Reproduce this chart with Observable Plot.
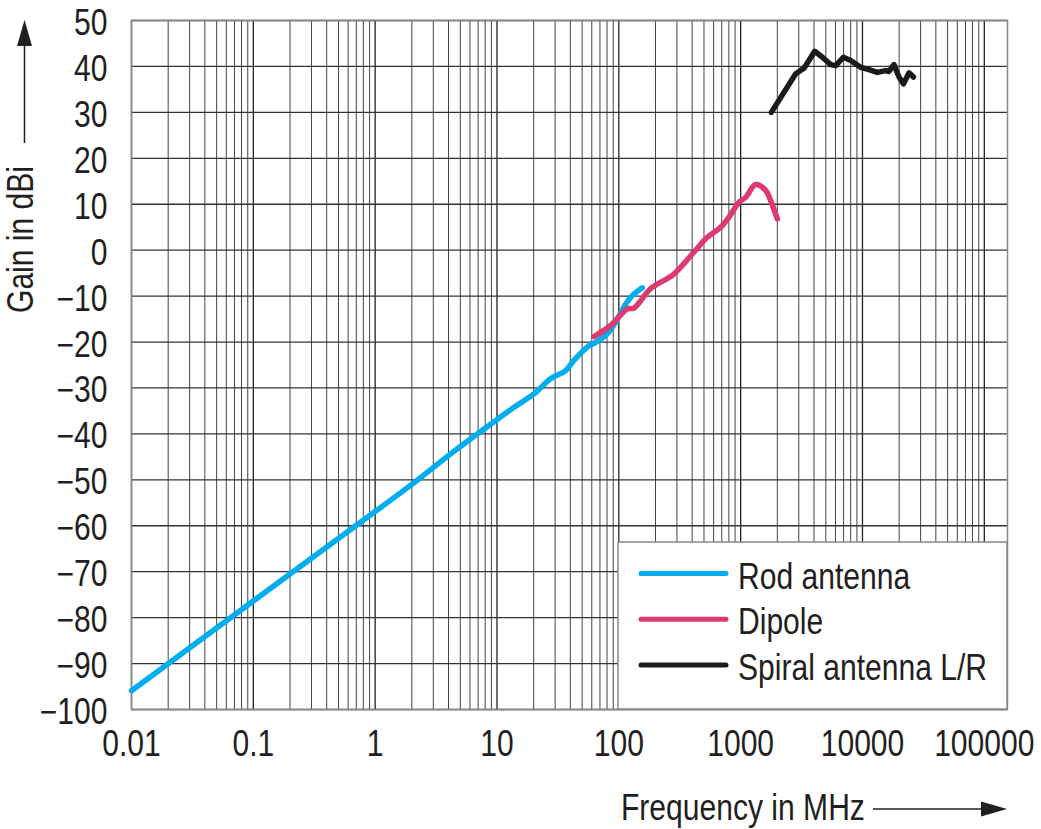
<!DOCTYPE html>
<html>
<head>
<meta charset="utf-8">
<script src="https://cdn.jsdelivr.net/npm/d3@7"></script>
<script src="https://cdn.jsdelivr.net/npm/@observablehq/plot@0.6"></script>
<style>
  html, body { margin: 0; padding: 0; background: #fff; }
  #chart svg { display: block; }
</style>
</head>
<body>
<div id="chart"></div>
<script>
// ---- data ----
const rodFreq = [0.01, 0.2, 1, 2, 4.43, 8.86, 13.8, 20.1, 27.5, 36.6, 42.8, 56.8, 62.5, 80.5, 94, 114, 129, 156];
const rodGain = [-95.9, -70.5, -56.9, -51.0, -43.8, -37.9, -34.2, -31.3, -28.0, -26.2, -24.0, -20.8, -20.3, -18.2, -15.7, -11.7, -9.9, -8.2];

const dipoleFreq = [62.5, 85.7, 117, 133, 182, 283, 414, 532, 685, 802, 968, 1099, 1328, 1604, 1762, 2000];
const dipoleGain = [-18.8, -16.4, -12.8, -12.6, -8.4, -5.2, -0.4, 2.8, 5.0, 7.2, 10.4, 11.5, 14.3, 13.0, 10.8, 6.8];

const spiralFreq = [1786, 2830, 3311, 4054, 4690, 5483, 6030, 6970, 8000, 9660, 11300, 13240, 15500, 16490, 18130, 19950, 21680, 24100, 26180];
const spiralGain = [30.0, 38.4, 39.6, 43.3, 42.0, 40.4, 40.2, 42.0, 41.3, 39.8, 39.3, 38.7, 39.1, 38.9, 40.4, 37.7, 36.2, 38.6, 37.7];

const seriesNames = ["Rod antenna", "Dipole", "Spiral antenna L/R"];
const seriesColors = ["#00aeef", "#dc3a70", "#1a1a1a"];

const xTicks = [0.01, 0.1, 1, 10, 100, 1000, 10000, 100000];
const xTickLabels = ["0.01", "0.1", "1", "10", "100", "1000", "10000", "100000"];
const yTicks = [-100, -90, -80, -70, -60, -50, -40, -30, -20, -10, 0, 10, 20, 30, 40, 50];
const xMinor = [];
for (let e = -2; e <= 4; e++) for (let m = 2; m <= 9; m++) xMinor.push(+(m * Math.pow(10, e)).toPrecision(3));

const xLabel = "Frequency in MHz";
const yLabel = "Gain in dBi";

// ---- build table ----
const toRows = (name, xs, ys) => xs.map((f, i) => ({series: name, freq: f, gain: ys[i]}));
const rod = toRows(seriesNames[0], rodFreq, rodGain);
const dipole = toRows(seriesNames[1], dipoleFreq, dipoleGain);
const spiral = toRows(seriesNames[2], spiralFreq, spiralGain);

const FONT = "'Liberation Sans', Arial, sans-serif";
const NARROW = 0.835;
const W = 1041, H = 829;
const mL = 131, mR = 34, mT = 20, mB = 120;

const chart = Plot.plot({
  width: W, height: H,
  marginLeft: mL, marginRight: mR, marginTop: mT, marginBottom: mB,
  style: {fontFamily: FONT, fontSize: "36px", color: "#231f20", background: "#fff", overflow: "visible"},
  x: {type: "log", domain: [0.01, 155000]},
  y: {domain: [-100, 50]},
  color: {domain: seriesNames, range: seriesColors},
  marks: [
    Plot.ruleX(xMinor, {stroke: "#444", strokeWidth: 1}),
    Plot.ruleX(xTicks, {stroke: "#222", strokeWidth: 1.3}),
    Plot.ruleY(yTicks, {stroke: "#333", strokeWidth: 1.3}),
    Plot.frame({stroke: "#888", strokeWidth: 1.5}),
    Plot.axisX(xTicks, {tickSize: 0, tickPadding: 21, tickFormat: (d) => xTickLabels[xTicks.indexOf(d)], label: null, fontSize: 36, fill: "#231f20"}),
    Plot.axisY(yTicks, {tickSize: 0, tickPadding: 24, dy: 3, tickFormat: d => d < 0 ? "\u2212" + Math.abs(d) : String(d), label: null, fontSize: 36, fill: "#231f20"}),
    Plot.line(rod, {x: "freq", y: "gain", stroke: "series", strokeWidth: 5.5, curve: "catmull-rom", strokeLinecap: "round", strokeLinejoin: "round"}),
    Plot.line(spiral, {x: "freq", y: "gain", stroke: "series", strokeWidth: 5.5, strokeLinecap: "round", strokeLinejoin: "round"}),
    Plot.line(dipole, {x: "freq", y: "gain", stroke: "series", strokeWidth: 5.5, curve: "catmull-rom", strokeLinecap: "round", strokeLinejoin: "round"})
  ]
});

document.getElementById("chart").appendChild(chart);

// ---- decorations: axis titles with arrows, legend box ----
const svg = d3.select(chart);
const g = svg.append("g").attr("font-family", FONT).attr("font-size", 36).attr("fill", "#231f20");

// y title + arrow
g.append("text").attr("transform", "translate(33,313) rotate(-90)").attr("text-anchor", "start").text(yLabel);
g.append("line").attr("x1", 24.5).attr("x2", 24.5).attr("y1", 143).attr("y2", 42).attr("stroke", "#231f20").attr("stroke-width", 1.5);
g.append("path").attr("d", "M24.5,20 L17,46 L32,46 Z").attr("fill", "#231f20");

// x title + arrow
g.append("text").attr("x", 621).attr("y", 820).attr("text-anchor", "start").text(xLabel);
g.append("line").attr("x1", 873).attr("x2", 985).attr("y1", 809).attr("y2", 809).attr("stroke", "#231f20").attr("stroke-width", 1.5);
g.append("path").attr("d", "M1007,809 L981,801.5 L981,816.5 Z").attr("fill", "#231f20");

// legend
const lg = svg.append("g").attr("font-family", FONT).attr("font-size", 36).attr("fill", "#231f20");
lg.append("rect").attr("x", 618).attr("y", 542).attr("width", 389).attr("height", 167).attr("fill", "#fff").attr("stroke", "#888").attr("stroke-width", 1.5);
seriesNames.forEach((name, i) => {
  const cy = 573.5 + i * 45.7;
  lg.append("line").attr("x1", 641).attr("x2", 726).attr("y1", cy).attr("y2", cy)
    .attr("stroke", seriesColors[i]).attr("stroke-width", 5).attr("stroke-linecap", "round");
  lg.append("text").attr("x", 738).attr("y", cy + 15).attr("text-anchor", "start").text(name);
});

// condensed look: compress every text's glyphs horizontally (position/anchor untouched)
svg.selectAll("text").each(function() {
  const L = this.getComputedTextLength();
  if (L > 0) {
    this.setAttribute("textLength", (L * NARROW).toFixed(2));
    this.setAttribute("lengthAdjust", "spacingAndGlyphs");
  }
});
</script>
</body>
</html>
